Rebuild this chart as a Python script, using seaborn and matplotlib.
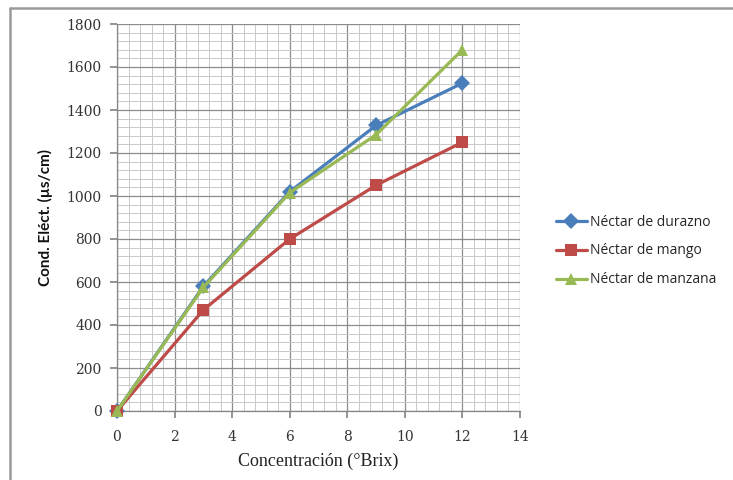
import matplotlib
matplotlib.use("Agg")
import matplotlib.pyplot as plt
from matplotlib.lines import Line2D
from matplotlib.ticker import MultipleLocator
import seaborn as sns
import pandas as pd

brix = [0, 3, 6, 9, 12]
durazno = [0, 580, 1020, 1328, 1525]
mango = [0, 470, 800, 1050, 1250]
manzana = [0, 575, 1015, 1285, 1680]
series_names = ["Néctar de durazno", "Néctar de mango", "Néctar de manzana"]

df = pd.DataFrame({
    "x": brix * 3,
    "y": durazno + mango + manzana,
    "serie": [series_names[0]] * 5 + [series_names[1]] * 5 + [series_names[2]] * 5,
})

sns.set_theme(style="white")
plt.rcParams["font.family"] = ["DejaVu Sans"]

fig = plt.figure(figsize=(7.33, 4.8), dpi=100)
ax = fig.add_axes([117 / 733, 1 - 411 / 480, (520 - 117) / 733, (411 - 24) / 480])

palette = {series_names[0]: "#4A7EBB", series_names[1]: "#BE4B48", series_names[2]: "#98B954"}
markers = {series_names[0]: "D", series_names[1]: "s", series_names[2]: "^"}

sns.lineplot(data=df, x="x", y="y", hue="serie", style="serie", palette=palette,
             markers=markers, dashes=False, linewidth=2.3, markersize=8,
             markeredgewidth=0, ax=ax, zorder=3, clip_on=False)

ax.set_xlim(0, 14)
ax.set_ylim(0, 1800)
ax.xaxis.set_major_locator(MultipleLocator(2))
ax.xaxis.set_minor_locator(MultipleLocator(0.4))
ax.yaxis.set_major_locator(MultipleLocator(200))
ax.yaxis.set_minor_locator(MultipleLocator(40))
ax.grid(which="major", color="#8C8C8C", linewidth=0.9)
ax.grid(which="minor", color="#C8C8C8", linewidth=0.7)
ax.set_axisbelow(True)
for s in ["top", "right"]:
    ax.spines[s].set_visible(False)
for s in ["left", "bottom"]:
    ax.spines[s].set_color("#868686")
    ax.spines[s].set_linewidth(0.9)
ax.tick_params(which="major", length=5, direction="out", color="#868686",
               left=True, bottom=True, labelcolor="#333333")
ax.tick_params(axis="y", pad=6)
ax.tick_params(axis="x", pad=9)
ax.tick_params(which="minor", length=0)
for lab in ax.get_xticklabels() + ax.get_yticklabels():
    lab.set_family("DejaVu Serif")
    lab.set_fontsize(10)

ax.set_xlabel("Concentración (°Brix)", family="Liberation Serif", fontsize=13, color="#222222")
ax.set_ylabel("Cond. Eléct. (µs/cm)", family="Lato", fontweight="bold", fontsize=11, color="#111111")
ax.xaxis.set_label_coords(0.5, (411 - 461) / 387, transform=ax.transAxes)
ax.xaxis.label.set_va("center")
ax.yaxis.set_label_coords((45 - 117) / 403, 0.5, transform=ax.transAxes)
ax.yaxis.label.set_va("center")

ax.legend(loc="center left", bbox_to_anchor=(543 / 733, 1 - 251 / 480), bbox_transform=fig.transFigure,
          frameon=False, handlelength=2.3, labelspacing=1.0, handletextpad=0.2,
          prop={"family": "Open Sans", "size": 10})

fig.add_artist(Line2D([10 / 733, 10 / 733], [0, 1 - 8 / 480], color="#9A9A9A", linewidth=1.8, transform=fig.transFigure))
fig.add_artist(Line2D([10 / 733, 1], [1 - 8 / 480, 1 - 8 / 480], color="#9A9A9A", linewidth=1.8, transform=fig.transFigure))

fig.savefig("out.png", dpi=100)
